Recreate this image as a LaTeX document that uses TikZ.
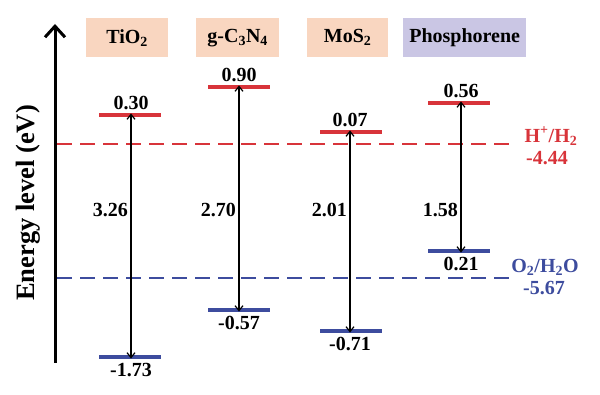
\documentclass[tikz,border=0pt]{standalone}
\usepackage{fontspec}
\setmainfont{Liberation Serif}
\usetikzlibrary{arrows.meta}
\definecolor{cbred}{HTML}{D8343A}
\definecolor{vbblue}{HTML}{3D4C9E}
\definecolor{peach}{HTML}{F9D6C0}
\definecolor{lav}{HTML}{CAC6E4}
\begin{document}
\begin{tikzpicture}[x=1pt,y=-1pt,
  txt/.style={font=\fontsize{20}{23}\selectfont\bfseries, inner sep=0pt},
  head/.style={txt, minimum height=39pt, anchor=north west},
  cbline/.style={cbred, line width=3.2pt},
  vbline/.style={vbblue, line width=3.2pt},
  gaparrow/.style={black, line width=1.2pt, {Straight Barb[length=5pt,width=8pt]}-{Straight Barb[length=5pt,width=8pt]}},
  refline/.style={line width=2.5pt, dash pattern=on 15pt off 8pt},
]
\useasboundingbox (0,0) rectangle (600,395);
% axis
\coordinate (axb) at (55,363);
\coordinate (axt) at (55,24);
\draw[line width=3pt, -{Straight Barb[length=11pt,width=20pt,line width=3pt]}] (axb) -- (axt);
\node[txt, font=\fontsize{26.5}{30}\selectfont\bfseries, rotate=90] (ylab) at (28,203) {Energy level (eV)};
% headers
\node[head, fill=peach, minimum width=82pt] (h1) at (86,18) {TiO\textsubscript{2}};
\node[head, fill=peach, minimum width=83pt] (h2) at (196,18) {g-C\textsubscript{3}N\textsubscript{4}};
\node[head, fill=peach, minimum width=81pt] (h3) at (307,18) {MoS\textsubscript{2}};
\node[head, fill=lav, minimum width=123pt] (h4) at (403,18) {Phosphorene};
% reference lines
\coordinate (hl) at (57,144); \coordinate (hr) at (512,144);
\coordinate (ol) at (57,278); \coordinate (or) at (512,278);
\draw[refline, cbred] (hl) -- (hr);
\draw[refline, vbblue] (ol) -- (or);
\node[txt, cbred] (hlab) at (551,136) {H\textsuperscript{+}/H\textsubscript{2}};
\node[txt, cbred] (hval) at (547,158) {-4.44};
\node[txt, vbblue] (olab) at (545,267) {O\textsubscript{2}/H\textsubscript{2}O};
\node[txt, vbblue] (oval) at (544,288) {-5.67};
% bands
\foreach \n/\xl/\xr/\xa/\cb/\vb/\cbt/\vbt/\gap in {
  1/99/161/131/115/357/0.30/-1.73/3.26,
  2/208/270/239/87/310/0.90/-0.57/2.70,
  3/320/382/350/132/331/0.07/-0.71/2.01,
  4/428/490/461/103/251/0.56/0.21/1.58}{
  \coordinate (cbl\n) at (\xl,\cb); \coordinate (cbr\n) at (\xr,\cb);
  \coordinate (vbl\n) at (\xl,\vb); \coordinate (vbr\n) at (\xr,\vb);
  \coordinate (cbm\n) at (\xa,\cb); \coordinate (vbm\n) at (\xa,\vb);
  \draw[cbline] (cbl\n) -- (cbr\n);
  \draw[vbline] (vbl\n) -- (vbr\n);
  \draw[gaparrow] ([yshift=1.6pt]cbm\n) -- ([yshift=-1.6pt]vbm\n);
  \node[txt, anchor=base] (cbt\n) at (\xa,\cb-5) {\cbt};
  \node[txt, anchor=base] (vbt\n) at (\xa,\vb+20) {\vbt};
  \node[txt, anchor=base east] (gap\n) at (\xa-3,217) {\gap};
}
\end{tikzpicture}
\end{document}
